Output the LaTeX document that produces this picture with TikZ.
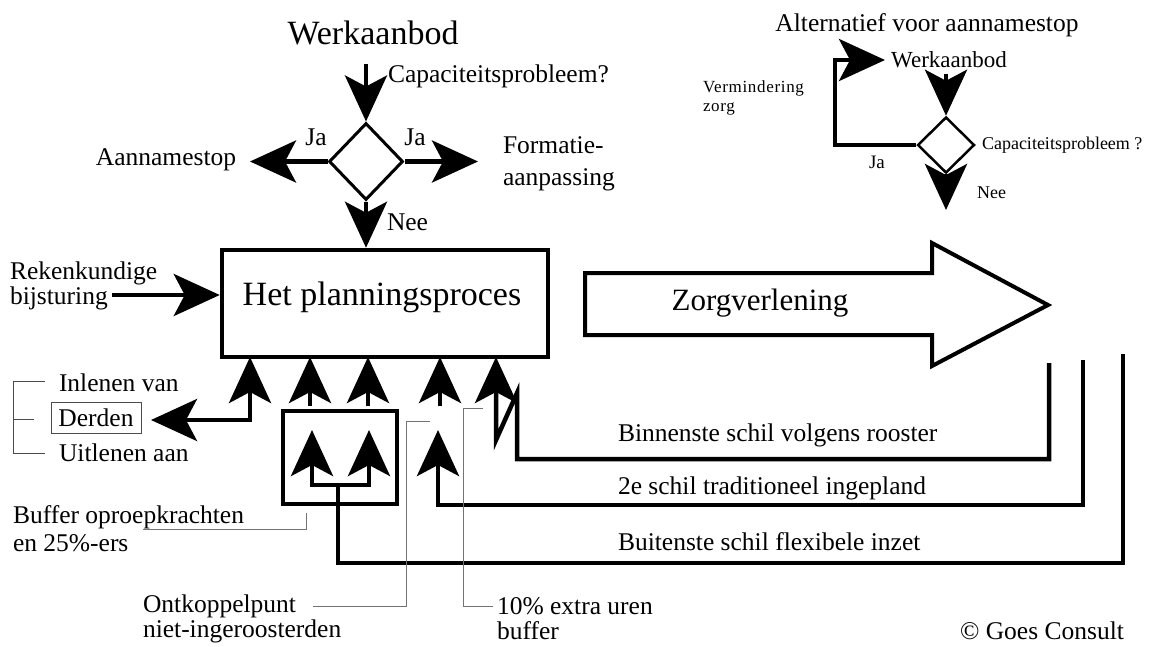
\documentclass[tikz,border=0pt]{standalone}
\usepackage{fontspec}
\setmainfont{Liberation Serif}
\usetikzlibrary{arrows.meta,shapes.geometric}
\begin{document}
\begin{tikzpicture}[x=1pt,y=-1pt,
  big/.style={font=\fontsize{34}{38}\selectfont},
  zorg/.style={font=\fontsize{31}{35}\selectfont},
  mid/.style={font=\fontsize{25.5}{29}\selectfont},
  sm/.style={font=\fontsize{18}{21}\selectfont},
  txt/.style={inner sep=0pt, outer sep=0pt},
  tip/.tip={Stealth[length=46pt,width=42pt,inset=11pt]},
  flow/.style={line width=4.5pt, -tip},
  flowtwo/.style={line width=4.5pt, tip-tip},
  thick line/.style={line width=4.5pt},
  leader/.style={line width=1pt, draw=black!55},
  brk/.style={line width=1pt, draw=black!70},
  dia/.style={diamond, draw, line width=3pt, inner sep=0pt, aspect=1},
]
\useasboundingbox (0,0) rectangle (1150,646);

% ---------- top-left decision ----------
\node[txt,big] (werk) at (373,33) {Werkaanbod};
\node[dia, minimum width=74pt, minimum height=77pt] (d1) at (366,161.5) {};
\coordinate (capstart) at (366,64);
\node[txt,mid,anchor=west] (cap) at (388,76) {Capaciteitsprobleem?};
\draw[flow] (capstart) -- (d1.north);
\coordinate (stoptip) at (250,161.5);
\coordinate (formtip) at (478,161.5);
\draw[flow] (d1.west) -- (stoptip);
\draw[flow] (d1.east) -- (formtip);
\node[txt,mid] (ja1) at (316,137) {Ja};
\node[txt,mid] (ja2) at (415,137) {Ja};
\node[txt,mid] (stop) at (166,160) {Aannamestop};
\node[txt,mid,anchor=west] (form1) at (503,145) {Formatie-};
\node[txt,mid,anchor=west] (form2) at (503,180) {aanpassing};
\node[txt,mid,anchor=west] (nee1) at (387,222) {Nee};

% ---------- planning box ----------
\node[draw, line width=4.5pt, minimum width=326pt, minimum height=107pt, inner sep=0pt] (plan) at (385,303.5) {};
\node[txt,big] (plantxt) at (382,297) {Het planningsproces};
\draw[flow] (d1.south) -- (plan.north -| d1.south);

\node[txt,mid,anchor=west] (rek1) at (10,273) {Rekenkundige};
\node[txt,mid,anchor=west] (rek2) at (10,298) {bijsturing};
\coordinate (rekstart) at (112,295);
\draw[flow] (rekstart) -- (rekstart -| plan.west);

% ---------- Zorgverlening arrow ----------
\draw[line width=4pt, line join=miter] (585,273) -- (932,273) -- (932,243) -- (1048,305) -- (932,366) -- (932,335) -- (585,335) -- cycle;
\node[txt,zorg] (zorg) at (760,303) {Zorgverlening};

% ---------- arrows into planning box ----------
\coordinate (a1) at (250,357);
\coordinate (a2) at (310,357);
\coordinate (a3) at (368,357);
\coordinate (a4) at (440,357);
\coordinate (a5) at (496,357);
\draw[flow] (310,406) -- (a2);
\draw[flow] (368,406) -- (a3);
\draw[flow] (440,406) -- (a4);

% Derden
\node[txt,mid,draw=black!70,line width=1pt,minimum width=90pt,minimum height=31pt] (derden) at (96,418) {Derden};
\coordinate (dertip) at (151,420);
\draw[flowtwo] (dertip) -- (250,420) -- (a1);
\node[txt,mid,anchor=west] (inl) at (59,383) {Inlenen van};
\node[txt,mid,anchor=west] (uitl) at (59,453) {Uitlenen aan};
\draw[brk] (45,381) -- (13,381) -- (13,453) -- (45,453);
\draw[brk] (13,419) -- (34,419);

% Buffer box
\draw[thick line] (283,411) rectangle (397,504);
\coordinate (b1) at (312,430);
\coordinate (b2) at (369,430);

% shells
\coordinate (s1) at (1049,363);
\coordinate (s2) at (1083,360);
\coordinate (s3) at (1123,354);
\draw[flow, line join=miter] (s1) -- (1049,459) -- (517,459) -- (517,393) -- (496,440) -- (a5);
\draw[flow] (s2) -- (1083,505) -- (438,505) -- (438,430);
\draw[flow] (s3) -- (1123,563) -- (338,563) -- (338,485) -| (b1);
\draw[flow] (338,485) -| (b2);

\node[txt,mid,anchor=west] (sh1) at (618,435) {Binnenste schil volgens rooster};
\node[txt,mid,anchor=west] (sh2) at (618,488) {2e schil traditioneel ingepland};
\node[txt,mid,anchor=west] (sh3) at (618,542) {Buitenste schil flexibele inzet};

% leaders
\node[txt,mid,anchor=west] (buf1) at (13,517) {Buffer oproepkrachten};
\node[txt,mid,anchor=west] (buf2) at (13,543) {en 25\%-ers};
\draw[leader] (143,529) -- (306,529) -- (306,513);
\node[txt,mid,anchor=west] (ont1) at (143,606) {Ontkoppelpunt};
\node[txt,mid,anchor=west] (ont2) at (143,631) {niet-ingeroosterden};
\draw[leader] (313,606) -- (406,606) -- (406,421) -- (430,421);
\node[txt,mid,anchor=west] (ten1) at (497,606) {10\% extra uren};
\node[txt,mid,anchor=west] (ten2) at (497,631) {buffer};
\draw[leader] (493,606) -- (463,606) -- (463,408) -- (483,408);

\node[txt,mid] (copy) at (1042,631) {© Goes Consult};

% ---------- right: alternative ----------
\node[txt,mid] (alt) at (927,25) {Alternatief voor aannamestop};
\node[txt,font=\fontsize{23}{26}\selectfont] (werk2) at (949,60) {Werkaanbod};
\node[dia, minimum width=57pt, minimum height=56pt, line width=2.5pt] (d2) at (946,145) {};
\coordinate (w2top) at (946,74);
\draw[flow] (w2top) -- (d2.north);
\coordinate (w2tip) at (885,60);
\draw[flow] (d2.west) -- (835,145) -- (835,60) -- (w2tip);
\coordinate (nee2tip) at (946,210);
\draw[flow] (d2.south) -- (nee2tip);
\node[txt,font=\fontsize{17}{20}\selectfont\addfontfeature{LetterSpace=4}] (verm1) at (703,88) [anchor=west] {Vermindering};
\node[txt,font=\fontsize{17}{20}\selectfont\addfontfeature{LetterSpace=4}] (verm2) at (703,109) [anchor=west] {zorg};
\node[txt,font=\fontsize{19}{22}\selectfont] (ja3) at (877,162) {Ja};
\node[txt,sm,anchor=west] (cap2) at (982,145) {Capaciteitsprobleem ?};
\node[txt,sm,anchor=west] (nee2) at (977,193) {Nee};
\end{tikzpicture}
\end{document}
